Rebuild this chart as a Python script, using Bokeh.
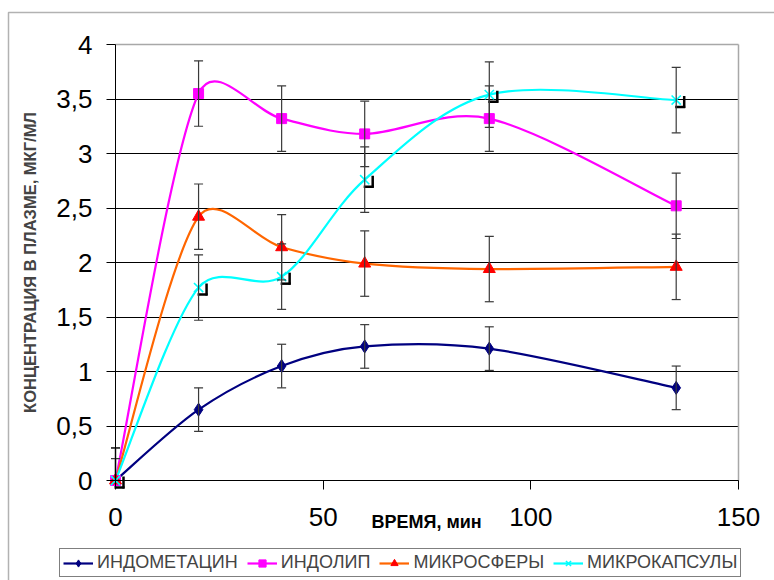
import math
from bokeh.plotting import figure
from bokeh.models import (Range1d, FixedTicker, Label, Legend, LegendItem, Whisker,
                          TeeHead, ColumnDataSource, BoxAnnotation, CustomJSTickFormatter, Grid)
from bokeh.embed import file_html
from bokeh.resources import INLINE

# ---------------- data ----------------
time_min = [0, 20, 40, 60, 90, 135]

indometacin = [0, 0.65, 1.05, 1.23, 1.21, 0.85]
indometacin_err = [0.2, 0.2, 0.2, 0.2, 0.2, 0.2]

indolip = [0, 3.55, 3.32, 3.18, 3.32, 2.52]
indolip_err = [0.3, 0.3, 0.3, 0.3, 0.3, 0.3]

microspheres = [0, 2.42, 2.14, 1.99, 1.94, 1.96]
microspheres_err = [0.3, 0.3, 0.3, 0.3, 0.3, 0.3]

microcapsules = [0, 1.77, 1.87, 2.76, 3.54, 3.49]
microcapsules_err = [0.3, 0.3, 0.3, 0.3, 0.3, 0.3]

series_names = ["ИНДОМЕТАЦИН", "ИНДОЛИП", "МИКРОСФЕРЫ", "МИКРОКАПСУЛЫ"]

x_ticks = [0, 50, 100, 150]
y_ticks = [0, 0.5, 1, 1.5, 2, 2.5, 3, 3.5, 4]

x_title = "ВРЕМЯ, мин"
y_title = "КОНЦЕНТРАЦИЯ В ПЛАЗМЕ, МКГ/МЛ"

# ---------------- layout constants ----------------
W, H = 774, 580
X0, X1 = 0, 150          # plot-area data extent
Y0, Y1 = 0, 4
PA_LEFT, PA_RIGHT, PA_TOP, PA_BOTTOM = 115, 738, 44, 480   # plot area in canvas px
sx = (PA_RIGHT - PA_LEFT) / (X1 - X0)
sy = (PA_BOTTOM - PA_TOP) / (Y1 - Y0)
FONT = "Liberation Sans"

XS = X0 - PA_LEFT / sx
XE = X1 + (W - PA_RIGHT) / sx
YS = Y0 - (H - PA_BOTTOM) / sy
YE = Y1 + PA_TOP / sy

# the frame covers the whole canvas so nothing outside the plot area gets clipped
p = figure(width=W, height=H, output_backend="svg", toolbar_location=None,
           x_range=Range1d(XS, XE), y_range=Range1d(YS, YE), min_border=0)
p.background_fill_color = "white"
p.border_fill_color = "white"
p.outline_line_color = None

# axes
p.xaxis.ticker = FixedTicker(ticks=x_ticks)
p.yaxis.ticker = FixedTicker(ticks=y_ticks)
p.xaxis.fixed_location = Y0
p.yaxis.fixed_location = X0
p.xaxis.bounds = (X0, X1)
p.yaxis.bounds = (Y0, Y1)
p.yaxis.formatter = CustomJSTickFormatter(code="return tick.toString().replace('.', ',');")
for ax in (p.xaxis, p.yaxis):
    ax.axis_line_color = "black"
    ax.axis_line_width = 1
    ax.major_tick_line_color = "black"
    ax.major_tick_out = 9
    ax.major_tick_in = 0
    ax.minor_tick_line_color = None
    ax.major_label_text_font = FONT
    ax.major_label_text_font_size = "26px"
    ax.major_label_text_color = "black"
p.yaxis.major_label_standoff = 14
p.xaxis.major_label_standoff = 18
p.yaxis.axis_label = y_title
p.yaxis.axis_label_text_font = FONT
p.yaxis.axis_label_text_font_style = "bold"
p.yaxis.axis_label_text_font_size = "16.5px"
p.yaxis.axis_label_standoff = 14

p.xgrid.grid_line_color = None
p.ygrid.ticker = FixedTicker(ticks=y_ticks[:-1])
p.ygrid.cross_bounds = (X0, X1)
p.ygrid.grid_line_color = "black"
p.ygrid.grid_line_width = 1
# light grey plot-area border on top and right
p.add_layout(Grid(dimension=1, ticker=FixedTicker(ticks=[Y1]), cross_bounds=(X0, X1),
                  grid_line_color="#a8a8a8", grid_line_width=1.5))
p.add_layout(Grid(dimension=0, ticker=FixedTicker(ticks=[X1]), cross_bounds=(Y0, Y1),
                  grid_line_color="#a8a8a8", grid_line_width=1.5))

p.add_layout(Label(x=74.9, y=-0.385, text=x_title, text_align="center", text_baseline="middle",
                   text_font=FONT, text_font_style="bold", text_font_size="18px",
                   text_color="black"))

# outer chart border (cut by the window on right and bottom)
p.add_layout(BoxAnnotation(left=XS + 8 / sx, right=XE + 10, top=YE - 12 / sy, bottom=YS - 1,
                           fill_alpha=0, line_color="black", line_width=1.5, level="overlay"))


# ---------------- smoothing (Excel-like bezier) ----------------
def bezier_parts(xs, ys):
    pts = [(x * sx, y * sy) for x, y in zip(xs, ys)]
    n = len(pts)
    out = dict(x0=[], y0=[], x1=[], y1=[], cx0=[], cy0=[], cx1=[], cy1=[])

    def d(a, b):
        return math.hypot(a[0] - b[0], a[1] - b[1])

    for i in range(n - 1):
        p0 = pts[max(i - 1, 0)]
        p1 = pts[i]
        p2 = pts[i + 1]
        p3 = pts[min(i + 2, n - 1)]
        d01, d12, d23 = d(p0, p1), d(p1, p2), d(p2, p3)
        f1 = min(1.0, math.sqrt(2 * d12 / (d01 + d12))) / 6 if d01 + d12 > 0 else 0
        f2 = min(1.0, math.sqrt(2 * d12 / (d12 + d23))) / 6 if d12 + d23 > 0 else 0
        c1 = (p1[0] + (p2[0] - p0[0]) * f1, p1[1] + (p2[1] - p0[1]) * f1)
        c2 = (p2[0] - (p3[0] - p1[0]) * f2, p2[1] - (p3[1] - p1[1]) * f2)
        out["x0"].append(p1[0] / sx); out["y0"].append(p1[1] / sy)
        out["x1"].append(p2[0] / sx); out["y1"].append(p2[1] / sy)
        out["cx0"].append(c1[0] / sx); out["cy0"].append(c1[1] / sy)
        out["cx1"].append(c2[0] / sx); out["cy1"].append(c2[1] / sy)
    return out


# ---------------- error bars ----------------
all_series = [
    (indometacin, indometacin_err),
    (indolip, indolip_err),
    (microspheres, microspheres_err),
    (microcapsules, microcapsules_err),
]
eb_full = dict(base=[], upper=[], lower=[])
eb_clip = dict(base=[], upper=[], lower=[])      # bars cut by the plot-area bottom
for vals, errs in all_series:
    for t, v, e in zip(time_min, vals, errs):
        tgt = eb_full if v - e >= Y0 else eb_clip
        tgt["base"].append(t)
        tgt["upper"].append(v + e)
        tgt["lower"].append(max(v - e, Y0))
EB_COLOR = "#3a3a3a"
p.add_layout(Whisker(source=ColumnDataSource(eb_full), base="base", upper="upper", lower="lower",
                     line_color=EB_COLOR, line_width=1.2, level="glyph",
                     upper_head=TeeHead(size=9, line_color=EB_COLOR, line_width=1.2),
                     lower_head=TeeHead(size=9, line_color=EB_COLOR, line_width=1.2)))
p.add_layout(Whisker(source=ColumnDataSource(eb_clip), base="base", upper="upper", lower="lower",
                     line_color=EB_COLOR, line_width=1.2, level="glyph",
                     upper_head=TeeHead(size=9, line_color=EB_COLOR, line_width=1.2),
                     lower_head=None))

# ---------------- series ----------------
styles = [
    dict(line="#000080", marker="diamond", mfill="#000080", mline="#000080", size=13),
    dict(line="#FF00FF", marker="square", mfill="#FF00FF", mline="#FF00FF", size=10),
    dict(line="#FF6600", marker="triangle", mfill="#FF0000", mline="#FF0000", size=12),
    dict(line="#00FFFF", marker="x", mfill=None, mline="#00FFFF", size=13),
]

items = []
for (vals, _), st, name in zip(all_series, styles, series_names):
    bz = ColumnDataSource(bezier_parts(time_min, vals))
    p.bezier(x0="x0", y0="y0", x1="x1", y1="y1", cx0="cx0", cy0="cy0", cx1="cx1", cy1="cy1",
             source=bz, line_color=st["line"], line_width=2.2)
    # a line renderer without visible points, used only for the legend swatch
    dummy = p.line([float("nan")], [float("nan")], line_color=st["line"], line_width=2.2)
    items.append((name, dummy, st))

# black corner shadows next to the cyan "x" markers
dxp, dyp = 1.0 / sx, 1.0 / sy
cx = [t + 8 * dxp for t in time_min]
p.segment(x0=cx, y0=[v + 4 * dyp for v in microcapsules], x1=cx,
          y1=[v - 8 * dyp for v in microcapsules], line_color="black", line_width=2.5)
p.segment(x0=[t - 1 * dxp for t in time_min], y0=[v - 7 * dyp for v in microcapsules],
          x1=[t + 9 * dxp for t in time_min], y1=[v - 7 * dyp for v in microcapsules],
          line_color="black", line_width=2.5)

legend_items = []
for (vals, _), (name, dummy, st) in zip(all_series, items):
    if st["marker"] == "x":
        m = p.scatter(time_min, vals, marker="x", size=st["size"], line_color=st["mline"],
                      line_width=1.6)
    else:
        m = p.scatter(time_min, vals, marker=st["marker"], size=st["size"],
                      fill_color=st["mfill"], line_color=st["mline"])
    legend_items.append(LegendItem(label=name, renderers=[dummy, m]))

legend = Legend(items=legend_items, orientation="horizontal", location=(59, 3),
                border_line_color="black", border_line_width=1,
                label_text_font=FONT, label_text_font_size="18px",
                glyph_width=30, glyph_height=18, label_standoff=4, spacing=9,
                padding=3, margin=0, label_height=19)
p.add_layout(legend)

open("out.html", "w").write(file_html(p, INLINE))
